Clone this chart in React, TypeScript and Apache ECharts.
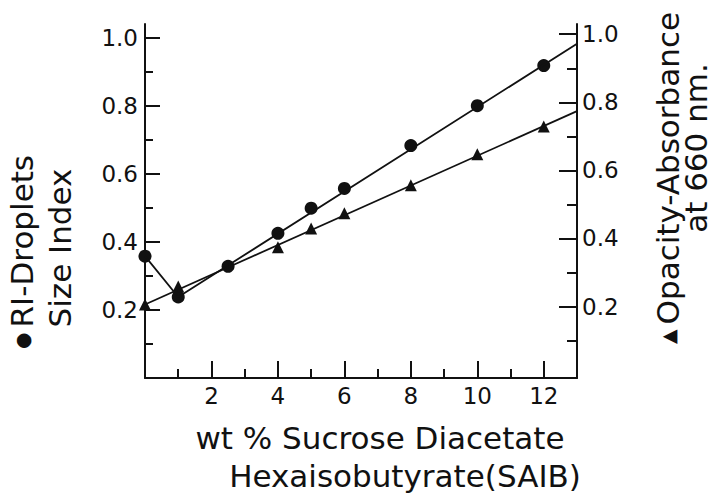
import React, { useEffect, useRef } from "react";
import * as echarts from "echarts";

// wt % SAIB (x) and measured values
const dropletX = [0, 1, 2.5, 4, 5, 6, 8, 10, 12];
const dropletIndex = [0.358, 0.238, 0.328, 0.425, 0.499, 0.557, 0.683, 0.8, 0.918];
const opacityX = [0, 1, 4, 5, 6, 8, 10, 12];
const opacityAbs = [0.206, 0.259, 0.374, 0.429, 0.474, 0.556, 0.647, 0.729];

// drawn curves (connecting / fitted lines)
const dropletLineX = [0, 1, 13];
const dropletLineY = [0.358, 0.238, 0.982];
const opacityLineX = [0, 13];
const opacityLineY = [0.206, 0.774];

// ticks
const xMajor = [2, 4, 6, 8, 10, 12];
const xMinor = [1, 3, 5, 7, 9, 11];
const yMajor = [0.2, 0.4, 0.6, 0.8, 1.0];
const yMinor = [0.1, 0.3, 0.5, 0.7, 0.9];

const INK = "#111111";
const FONT = "DejaVu Sans";
const TITLE_SIZE = 31;

const zip = (xs: number[], ys: number[]) => xs.map((x, i) => [x, ys[i]]);

export default function App() {
  const ref = useRef<HTMLDivElement>(null);
  useEffect(() => {
    if (!ref.current) return;
    const chart = echarts.init(ref.current, undefined, { renderer: "svg" });
    const axisLine = { show: true, lineStyle: { color: INK, width: 2 } };
    const label = (vals: number[], margin: number, fmt: (v: number) => string) => ({
      show: true,
      customValues: vals,
      color: INK,
      fontFamily: FONT,
      fontSize: 23,
      margin,
      formatter: fmt,
    });
    const tick = (vals: number[], length: number) => ({
      show: true,
      inside: true,
      length,
      customValues: vals,
      lineStyle: { color: INK, width: 2 },
    });
    const yAxisBase = (pos: "left" | "right", min: number, max: number) => ({
      type: "value" as const,
      position: pos,
      min,
      max,
      splitLine: { show: false },
    });
    const titleStyle = (text: string) => ({
      text,
      fill: INK,
      fontFamily: FONT,
      fontSize: TITLE_SIZE,
      textAlign: "center",
      textVerticalAlign: "middle",
      rich: { s: { fontSize: 19, fontFamily: FONT, fill: INK, padding: [0, 5, 0, 0] } },
    });
    chart.setOption({
      animation: false,
      backgroundColor: "#ffffff",
      grid: { left: 145, right: 140, top: 24, bottom: 121, containLabel: false },
      xAxis: [
        {
          type: "value",
          min: 0,
          max: 13,
          position: "bottom",
          axisLine,
          axisTick: tick(xMajor, 17),
          axisLabel: label(xMajor, 6, (v: number) => String(v)),
          splitLine: { show: false },
        },
        {
          type: "value",
          min: 0,
          max: 13,
          position: "bottom",
          axisLine: { show: false },
          axisTick: tick(xMinor, 9),
          axisLabel: { show: false },
          splitLine: { show: false },
        },
      ],
      yAxis: [
        {
          ...yAxisBase("left", 0, 1.04),
          axisLine,
          axisTick: tick(yMajor, 15),
          axisLabel: label(yMajor, 7, (v: number) => v.toFixed(1)),
        },
        {
          ...yAxisBase("left", 0, 1.04),
          axisLine: { show: false },
          axisTick: tick(yMinor, 8),
          axisLabel: { show: false },
        },
        {
          ...yAxisBase("right", -0.01, 1.03),
          axisLine,
          axisTick: tick(yMajor, 18),
          axisLabel: label(yMajor, 5, (v: number) => v.toFixed(1)),
        },
        {
          ...yAxisBase("right", -0.01, 1.03),
          axisLine: { show: false },
          axisTick: tick(yMinor, 10),
          axisLabel: { show: false },
        },
      ],
      series: [
        {
          type: "line",
          xAxisIndex: 0,
          yAxisIndex: 0,
          data: zip(dropletLineX, dropletLineY),
          showSymbol: false,
          clip: false,
          lineStyle: { color: INK, width: 1.8 },
        },
        {
          type: "scatter",
          xAxisIndex: 0,
          yAxisIndex: 0,
          data: zip(dropletX, dropletIndex),
          symbol: "circle",
          symbolSize: 13,
          clip: false,
          itemStyle: { color: INK, opacity: 1 },
        },
        {
          type: "line",
          xAxisIndex: 0,
          yAxisIndex: 2,
          data: zip(opacityLineX, opacityLineY),
          showSymbol: false,
          clip: false,
          lineStyle: { color: INK, width: 1.8 },
        },
        {
          type: "scatter",
          xAxisIndex: 0,
          yAxisIndex: 2,
          data: zip(opacityX, opacityAbs),
          symbol: "triangle",
          symbolSize: 12,
          clip: false,
          itemStyle: { color: INK, opacity: 1 },
        },
      ],
      graphic: [
        {
          type: "text",
          x: 22,
          y: 252,
          rotation: Math.PI / 2,
          style: titleStyle("{s|●}RI-Droplets"),
        },
        {
          type: "text",
          x: 60,
          y: 248,
          rotation: Math.PI / 2,
          style: titleStyle("Size Index"),
        },
        {
          type: "text",
          x: 668,
          y: 178,
          rotation: Math.PI / 2,
          style: titleStyle("{s|▲}Opacity-Absorbance"),
        },
        {
          type: "text",
          x: 696,
          y: 148,
          rotation: Math.PI / 2,
          style: titleStyle("at 660 nm."),
        },
        {
          type: "text",
          x: 380,
          y: 438,
          style: titleStyle("wt % Sucrose Diacetate"),
        },
        {
          type: "text",
          x: 405,
          y: 476,
          style: titleStyle("Hexaisobutyrate(SAIB)"),
        },
      ],
    });
    return () => chart.dispose();
  }, []);
  return (
    <div
      ref={ref}
      style={{ position: "absolute", left: 0, top: 0, width: 717, height: 499, background: "#fff" }}
    />
  );
}
